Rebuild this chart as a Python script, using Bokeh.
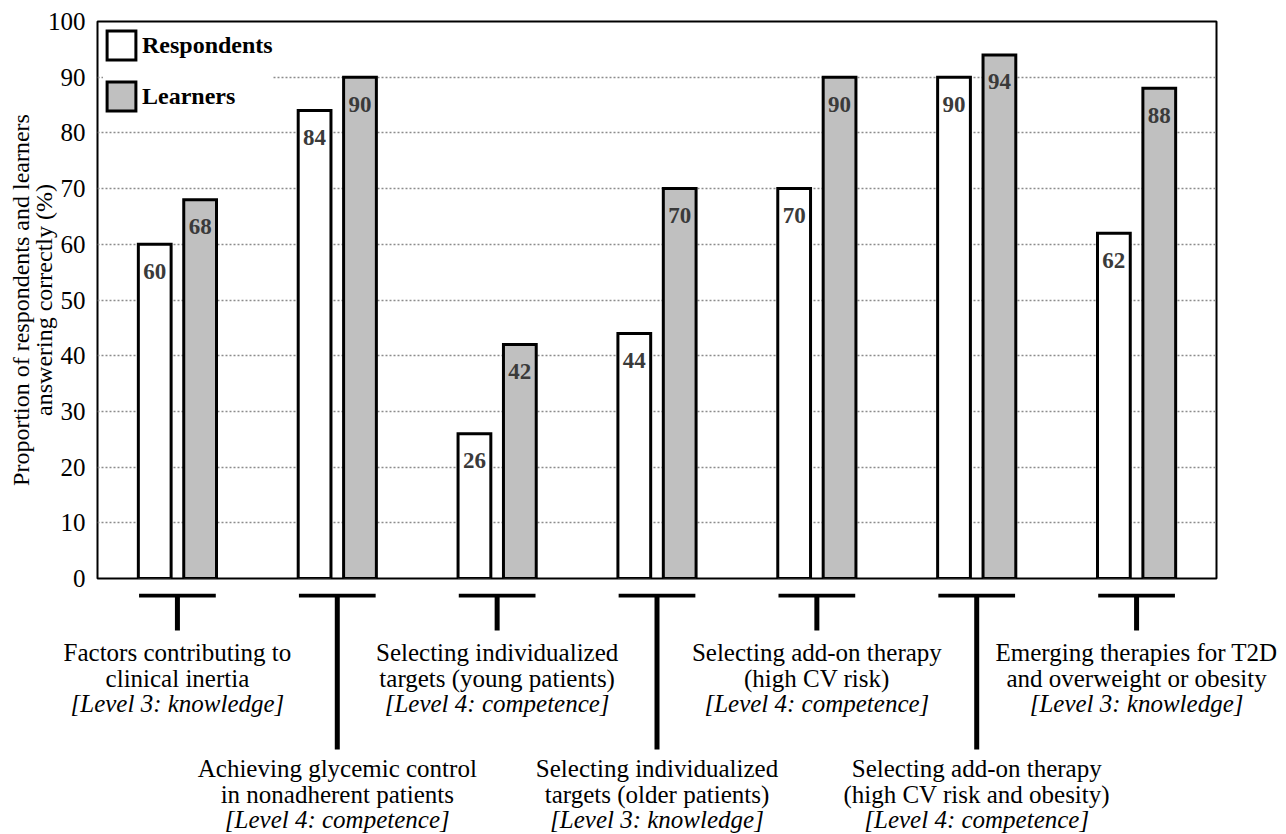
from bokeh.plotting import figure
from bokeh.models import Range1d, FixedTicker, Legend, LegendItem, ColumnDataSource
from bokeh.core.properties import value
from bokeh.embed import file_html
from bokeh.resources import INLINE

# ---------------- data ----------------
topic_line1 = [
    "Factors contributing to",
    "Achieving glycemic control",
    "Selecting individualized",
    "Selecting individualized",
    "Selecting add-on therapy",
    "Selecting add-on therapy",
    "Emerging therapies for T2D",
]
topic_line2 = [
    "clinical inertia",
    "in nonadherent patients",
    "targets (young patients)",
    "targets (older patients)",
    "(high CV risk)",
    "(high CV risk and obesity)",
    "and overweight or obesity",
]
levels = [
    "[Level 3: knowledge]",
    "[Level 4: competence]",
    "[Level 4: competence]",
    "[Level 3: knowledge]",
    "[Level 4: competence]",
    "[Level 4: competence]",
    "[Level 3: knowledge]",
]
respondents = [60, 84, 26, 44, 70, 90, 62]
learners = [68, 90, 42, 70, 90, 94, 88]
y_ticks = [0, 10, 20, 30, 40, 50, 60, 70, 80, 90, 100]
series_names = ["Respondents", "Learners"]
y_title = "Proportion of respondents and learners\nanswering correctly (%)"

# ---------------- style ----------------
FONT = "Liberation Serif"
W = 1286
LEFT = 97
RIGHT = 70
FRAME_BOTTOM = 578
TOP_H = 593
BOT_H = 834 - TOP_H
OFF = 0.142
BW = 0.205
label_row = [i % 2 for i in range(len(topic_line1))]  # alternate short/long leaders

n = len(respondents)
xs = list(range(n))
x_resp = [x - OFF for x in xs]
x_lear = [x + OFF for x in xs]
ppu = (W - LEFT - RIGHT) / n

p = figure(width=W, height=TOP_H, x_range=Range1d(-0.5, n - 0.5), y_range=Range1d(0, 100),
           output_backend="svg", toolbar_location=None,
           min_border_left=LEFT, min_border_right=RIGHT,
           min_border_top=21, min_border_bottom=TOP_H - FRAME_BOTTOM)
p.xaxis.visible = False
p.outline_line_color = "black"
p.outline_line_width = 2
p.outline_line_alpha = 1
p.xgrid.visible = False
p.ygrid.grid_line_color = "#8c8c8c"
p.ygrid.grid_line_width = 1.5
p.ygrid.grid_line_dash = "2 2"
p.yaxis.ticker = FixedTicker(ticks=y_ticks)
p.yaxis.major_tick_line_color = None
p.yaxis.minor_tick_line_color = None
p.yaxis.axis_line_color = None
p.yaxis.major_label_text_font = FONT
p.yaxis.major_label_text_font_size = "25px"
p.yaxis.major_label_text_color = "black"
p.yaxis.major_label_standoff = 6
p.yaxis.axis_label = y_title
p.yaxis.axis_label_text_font = FONT
p.yaxis.axis_label_text_font_size = "24px"
p.yaxis.axis_label_text_font_style = "normal"
p.yaxis.axis_label_text_color = "black"
p.yaxis.axis_label_standoff = -12
p.yaxis.axis_label_text_line_height = 0.9

r1 = p.vbar(x=x_resp, top=respondents, width=BW, bottom=0, fill_color="white",
            line_color="black", line_width=3, line_join="miter")
r2 = p.vbar(x=x_lear, top=learners, width=BW, bottom=0, fill_color="#c0c0c0",
            line_color="black", line_width=3, line_join="miter")

lab_src = ColumnDataSource(dict(
    x=x_resp + x_lear,
    y=respondents + learners,
    t=[str(v) for v in respondents + learners],
))
p.text(x="x", y="y", text="t", source=lab_src, y_offset=27,
       text_align="center", text_baseline="middle",
       text_font=value(FONT), text_font_size="23px", text_font_style="bold",
       text_color="#3a3a3a")

legend = Legend(items=[LegendItem(label=series_names[0], renderers=[r1]),
                       LegendItem(label=series_names[1], renderers=[r2])],
                location="top_left")
legend.margin = 6
legend.padding = 6
legend.spacing = 15
legend.glyph_width = 36
legend.glyph_height = 36
legend.label_standoff = 3
legend.label_text_font = FONT
legend.label_text_font_size = "24px"
legend.label_text_font_style = "bold"
legend.label_text_color = "black"
legend.border_line_color = None
legend.background_fill_color = "white"
legend.background_fill_alpha = 1
p.add_layout(legend)

# ---------------- bottom: leaders and labels (separate root, full-width frame) ----------------
x_range2 = Range1d(-0.5 - LEFT / ppu, n - 0.5 + RIGHT / ppu)
q = figure(width=W, height=BOT_H, x_range=x_range2, y_range=Range1d(834, TOP_H),
           output_backend="svg", toolbar_location=None,
           min_border_left=0, min_border_right=0,
           min_border_top=0, min_border_bottom=0)
q.axis.visible = False
q.grid.visible = False
q.outline_line_color = None

BAR_Y = TOP_H + 2
stem_end = [630 if r == 0 else 749 for r in label_row]
line1_y = [652 if r == 0 else 768 for r in label_row]
line2_y = [y + 25.5 for y in line1_y]
line3_y = [y + 51 for y in line1_y]

q.segment(x0=[x - 0.24 for x in xs], x1=[x + 0.24 for x in xs],
          y0=[BAR_Y] * n, y1=[BAR_Y] * n,
          line_color="black", line_width=4)
q.segment(x0=xs, x1=xs, y0=[BAR_Y] * n, y1=stem_end,
          line_color="black", line_width=5)

q.text(x=xs, y=line1_y, text=topic_line1, text_align="center", text_baseline="middle",
       text_font=value(FONT), text_font_size="25px", text_color="black")
q.text(x=xs, y=line2_y, text=topic_line2, text_align="center", text_baseline="middle",
       text_font=value(FONT), text_font_size="25px", text_color="black")
q.text(x=xs, y=line3_y, text=levels, text_align="center", text_baseline="middle",
       text_font=value(FONT), text_font_size="25px", text_font_style="italic",
       text_color="black")

open("out.html", "w").write(file_html([p, q], INLINE))
